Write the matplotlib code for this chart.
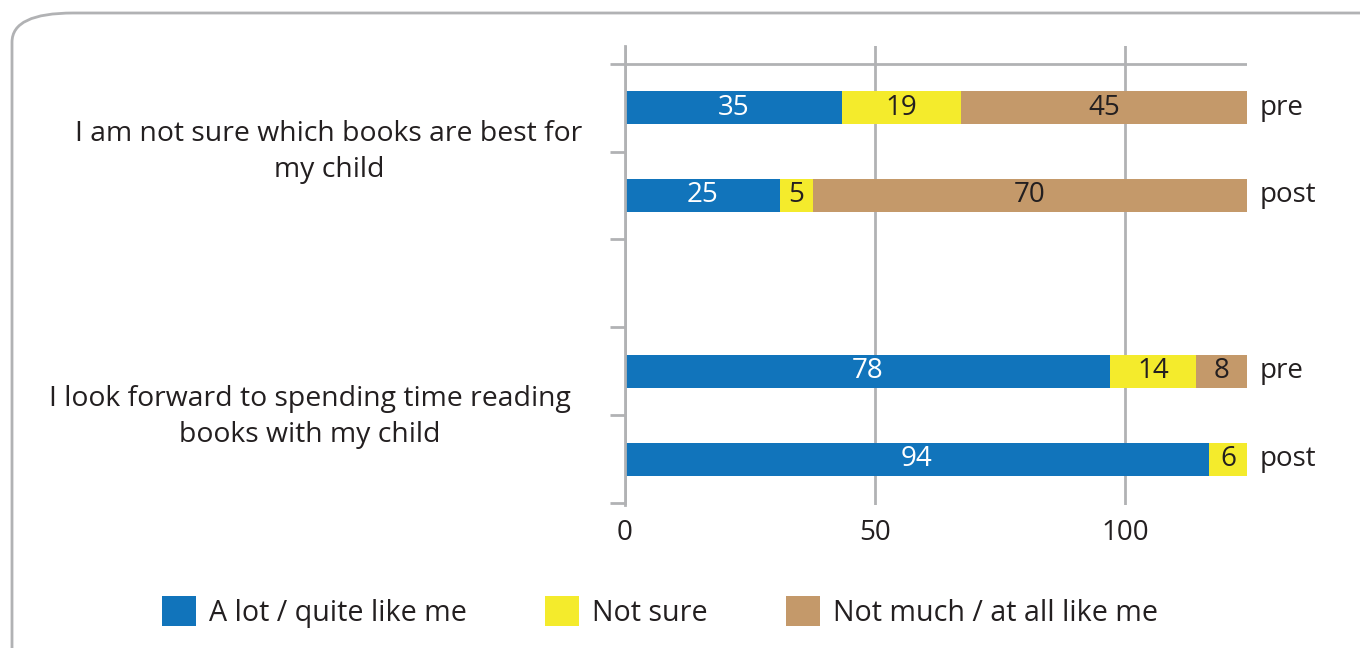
import numpy as np
import matplotlib
matplotlib.use("Agg")
import matplotlib.pyplot as plt
from matplotlib.patches import Patch, FancyBboxPatch

plt.rcParams["font.family"] = ["Open Sans", "DejaVu Sans"]

# Data: bar segment lengths as drawn (axis units) and the percentage labels printed on them
rows = ["pre", "post", "", "pre", "post"]
questions = ["I am not sure which books are best for\nmy child",
             "I look forward to spending time reading\nbooks with my child"]
series = ["A lot / quite like me", "Not sure", "Not much / at all like me"]
colors = ["#1174bb", "#f4eb2c", "#c4996a"]

a_lot = [43.3, 31.0, 0, 97.0, 116.8]
not_sure = [23.9, 6.5, 0, 17.2, 7.6]
not_much = [57.2, 86.9, 0, 10.2, 0]

a_lot_lbl = ["35", "25", "", "78", "94"]
not_sure_lbl = ["19", "5", "", "14", "6"]
not_much_lbl = ["45", "70", "", "8", ""]

text_col = "#231f20"
grid_col = "#b1b2b4"

fig = plt.figure(figsize=(13.6, 6.48), dpi=100)
ax = fig.add_axes([625 / 1360, 1 - 505 / 648, (1247 - 625) / 1360, (505 - 46) / 648])

# rounded frame around the whole chart
frame = FancyBboxPatch((12 / 1360, 1 - 700 / 648), 1500 / 1360, 687 / 648,
                       boxstyle="round,pad=0,rounding_size=0.045",
                       transform=fig.transFigure, fill=False,
                       edgecolor=grid_col, linewidth=2.0, zorder=0)
fig.patches.append(frame)

y = np.arange(len(rows))
left = np.zeros(len(rows))
for vals, lbls, col in zip([a_lot, not_sure, not_much],
                           [a_lot_lbl, not_sure_lbl, not_much_lbl], colors):
    vals = np.array(vals)
    bars = ax.barh(y, vals, left=left, height=0.375, color=col, zorder=3)
    for b, lab in zip(bars, lbls):
        if lab:
            tc = "white" if col == colors[0] else text_col
            ax.text(b.get_x() + b.get_width() / 2, b.get_y() + b.get_height() / 2, lab,
                    ha="center", va="center", fontsize=20, color=tc, zorder=4)
    left = left + vals

# pre / post labels to the right of the bars
for yi, r in zip(y, rows):
    if r:
        ax.text(left.max() + 2.6, yi, r, ha="left", va="center",
                fontsize=20, color=text_col, clip_on=False)

ax.set_xlim(0, 124.4)
ax.set_ylim(4.52, -0.7)

ax.set_xticks([0, 50, 100])
ax.set_xticklabels(["0", "50", "100"])
ax.tick_params(axis="x", length=0, pad=10, labelsize=20, labelcolor=text_col)
ax.grid(axis="x", color=grid_col, linewidth=2.0, zorder=1)

ax.set_yticks(np.arange(-0.5, len(rows), 1.0))
ax.set_yticklabels([])
ax.tick_params(axis="y", direction="out", length=10.8, width=2.0, color=grid_col)

ax.hlines(-0.5, 0, left.max(), color=grid_col, linewidth=2.0, zorder=2)

for s in ["top", "right", "bottom"]:
    ax.spines[s].set_visible(False)
ax.spines["left"].set_color(grid_col)
ax.spines["left"].set_linewidth(2.0)
ax.spines["left"].set_zorder(5)

# question labels, centred on each pair of bars
fig.text(329 / 1360, 1 - 152 / 648, questions[0], ha="center", va="center",
         fontsize=20.4, color=text_col, linespacing=1.4)
fig.text(310 / 1360, 1 - 417 / 648, questions[1], ha="center", va="center",
         fontsize=20.4, color=text_col, linespacing=1.4)

handles = [Patch(facecolor=c, edgecolor="none", label=s) for c, s in zip(colors, series)]
fig.legend(handles=handles, loc="center", bbox_to_anchor=(660 / 1360, 1 - 612 / 648),
           ncol=3, frameon=False, fontsize=20.6, labelcolor=text_col,
           handlelength=1.19, handleheight=1.19, handletextpad=0.45, columnspacing=2.75)

fig.savefig("out.png", dpi=100)
